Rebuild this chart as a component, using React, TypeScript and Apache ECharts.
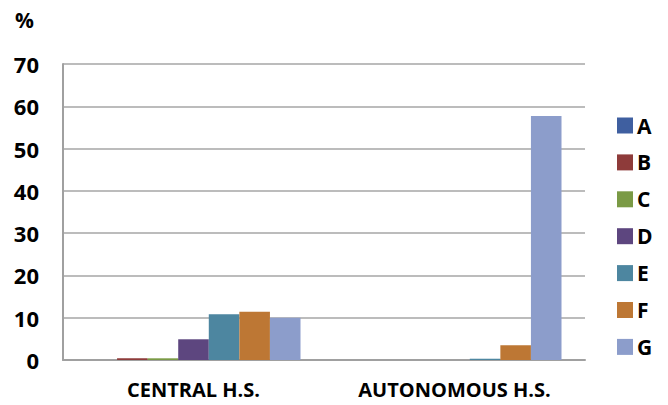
import React, { useEffect, useRef } from "react";
import * as echarts from "echarts";

const categories = ["CENTRAL H.S.", "AUTONOMOUS H.S."];
const seriesNames = ["A", "B", "C", "D", "E", "F", "G"];
const valuesA = [0, 0];
const valuesB = [0.4, 0];
const valuesC = [0.4, 0];
const valuesD = [4.9, 0];
const valuesE = [10.8, 0.3];
const valuesF = [11.4, 3.5];
const valuesG = [10.0, 57.7];
const seriesValues = [valuesA, valuesB, valuesC, valuesD, valuesE, valuesF, valuesG];
const colors = ["#3f5fa0", "#8e3b3a", "#7a9a45", "#5d467f", "#4d86a0", "#bd7734", "#8c9dcb"];
const yTicks = { min: 0, max: 70, interval: 10 };

export default function App() {
  const ref = useRef<HTMLDivElement>(null);
  useEffect(() => {
    if (!ref.current) return;
    const chart = echarts.init(ref.current, undefined, { renderer: "svg" });
    const font = "'Open Sans', 'DejaVu Sans', sans-serif";
    chart.setOption({
      animation: false,
      backgroundColor: "#ffffff",
      grid: { left: 63, top: 64, width: 522, height: 296, containLabel: false },
      xAxis: {
        type: "category",
        data: categories,
        axisLine: { show: true, lineStyle: { color: "#a0a0a0", width: 2 } },
        axisTick: { show: false },
        axisLabel: { color: "#000", fontWeight: "bold", fontSize: 20, fontFamily: font, margin: 19 },
      },
      yAxis: {
        type: "value",
        min: yTicks.min,
        max: yTicks.max,
        interval: yTicks.interval,
        axisLine: { show: true, lineStyle: { color: "#a0a0a0", width: 2 } },
        axisTick: { show: false },
        splitLine: { show: true, lineStyle: { color: "#a6a6a6", width: 1.5 } },
        axisLabel: { color: "#000", fontWeight: "bold", fontSize: 22, fontFamily: font, margin: 24 },
      },
      legend: {
        orient: "vertical",
        left: 617,
        top: 115,
        height: 285,
        padding: 0,
        itemWidth: 16,
        itemHeight: 16,
        itemGap: 15.9,
        icon: "rect",
        data: seriesNames,
        textStyle: { color: "#000", fontWeight: "bold", fontSize: 21, fontFamily: font, padding: [0, 0, 0, -1] },
      },
      graphic: [
        {
          type: "text",
          left: 15,
          top: 9,
          style: { text: "%", fill: "#000", font: `bold 21px ${font}` },
        },
      ],
      series: seriesNames.map((name, i) => ({
        name,
        type: "bar",
        data: seriesValues[i],
        barGap: "0%",
        barCategoryGap: "18%",
        itemStyle: { color: colors[i] },
      })),
    });
    return () => chart.dispose();
  }, []);
  return <div ref={ref} style={{ position: "absolute", left: 0, top: 0, width: 668, height: 405 }} />;
}
